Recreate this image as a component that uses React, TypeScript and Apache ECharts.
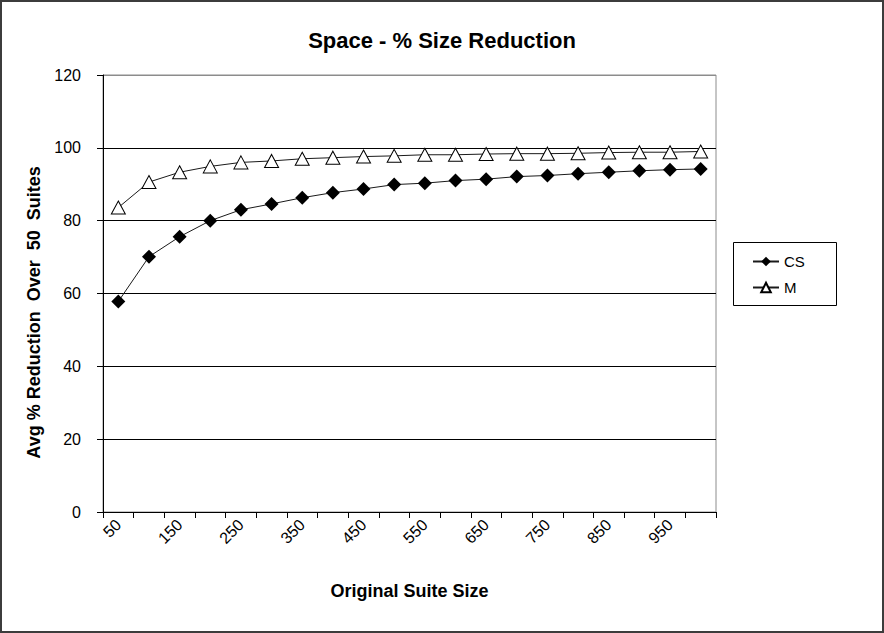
import React, { useEffect, useRef } from "react";
import * as echarts from "echarts";

// Original suite sizes (x categories)
const suiteSizes: string[] = [
  "50", "100", "150", "200", "250", "300", "350", "400", "450", "500",
  "550", "600", "650", "700", "750", "800", "850", "900", "950", "1000",
];

// Average % reduction over 50 suites
const csValues: number[] = [
  57.8, 70.1, 75.6, 80.0, 83.0, 84.6, 86.3, 87.7, 88.7, 89.9,
  90.3, 91.0, 91.4, 92.1, 92.4, 92.9, 93.3, 93.7, 94.0, 94.2,
];
const mValues: number[] = [
  83.6, 90.6, 93.3, 94.9, 96.0, 96.4, 97.0, 97.3, 97.6, 97.8,
  98.1, 98.1, 98.3, 98.4, 98.4, 98.5, 98.7, 98.8, 98.8, 99.0,
];

const FONT = "'Liberation Sans', Arial, sans-serif";

export default function App() {
  const ref = useRef<HTMLDivElement>(null);

  useEffect(() => {
    document.body.style.margin = "0";
    if (!ref.current) return;
    const chart = echarts.init(ref.current, undefined, { renderer: "svg" });

    chart.setOption({
      animation: false,
      backgroundColor: "#ffffff",
      textStyle: { fontFamily: FONT, color: "#000" },
      title: {
        text: "Space - % Size Reduction",
        left: "center",
        top: 24,
        textStyle: { fontFamily: FONT, fontSize: 22, fontWeight: "bold", color: "#000" },
      },
      grid: {
        left: 103,
        top: 75,
        right: 168,
        bottom: 121,
        show: true,
        borderColor: "#8c8c8c",
        borderWidth: 1,
        backgroundColor: "#ffffff",
      },
      legend: {
        orient: "vertical",
        left: 752,
        top: 254,
        padding: 0,
        itemWidth: 26,
        itemHeight: 12,
        itemGap: 11,
        textStyle: { fontFamily: FONT, fontSize: 15, color: "#000" },
        data: ["CS", "M"],
      },
      xAxis: {
        type: "category",
        data: suiteSizes,
        boundaryGap: true,
        name: "Original Suite Size",
        nameLocation: "middle",
        nameGap: 70,
        nameTextStyle: { fontFamily: FONT, fontSize: 18, fontWeight: "bold", color: "#000" },
        axisLine: { lineStyle: { color: "#000", width: 1 } },
        axisTick: { show: true, interval: 0, length: 6, lineStyle: { color: "#000" } },
        axisLabel: {
          interval: 1,
          rotate: 45,
          margin: 10,
          fontFamily: FONT,
          fontSize: 16,
          color: "#000",
        },
        splitLine: { show: false },
      },
      yAxis: {
        type: "value",
        min: 0,
        max: 120,
        interval: 20,
        name: "Avg % Reduction  Over  50  Suites",
        nameLocation: "middle",
        nameRotate: 90,
        nameGap: 58,
        nameTextStyle: {
          fontFamily: FONT,
          fontSize: 18,
          fontWeight: "bold",
          color: "#000",
          padding: [0, 38, 0, 0],
        },
        axisLine: { show: true, lineStyle: { color: "#000", width: 1 } },
        axisTick: { show: true, inside: false, length: 6, lineStyle: { color: "#000" } },
        axisLabel: { margin: 22, fontFamily: FONT, fontSize: 16, color: "#000" },
        splitLine: {
          show: true,
          lineStyle: {
            color: ["#000", "#000", "#000", "#000", "#000", "#000", "#8c8c8c"],
            width: 1,
          },
        },
      },
      graphic: [
        {
          type: "rect",
          shape: { x: 1, y: 1, width: 882, height: 631 },
          style: { fill: "none", stroke: "#3c3c3c", lineWidth: 2 },
          silent: true,
          z: 100,
        },
        {
          type: "rect",
          shape: { x: 733.5, y: 242.5, width: 103, height: 63 },
          style: { fill: "none", stroke: "#000", lineWidth: 1 },
          silent: true,
          z: 100,
        },
      ],
      series: [
        {
          name: "CS",
          type: "line",
          data: csValues,
          symbol: "diamond",
          symbolSize: 14,
          itemStyle: { color: "#000", borderColor: "#000", borderWidth: 0 },
          lineStyle: { color: "#1a1a1a", width: 1 },
          z: 3,
        },
        {
          name: "M",
          type: "line",
          data: mValues,
          symbol: "triangle",
          symbolSize: [14, 13],
          itemStyle: { color: "#ffffff", borderColor: "#000", borderWidth: 1 },
          lineStyle: { color: "#1a1a1a", width: 1 },
          z: 4,
        },
      ],
    });

    return () => {
      chart.dispose();
    };
  }, []);

  return <div ref={ref} style={{ width: 884, height: 633 }} />;
}
